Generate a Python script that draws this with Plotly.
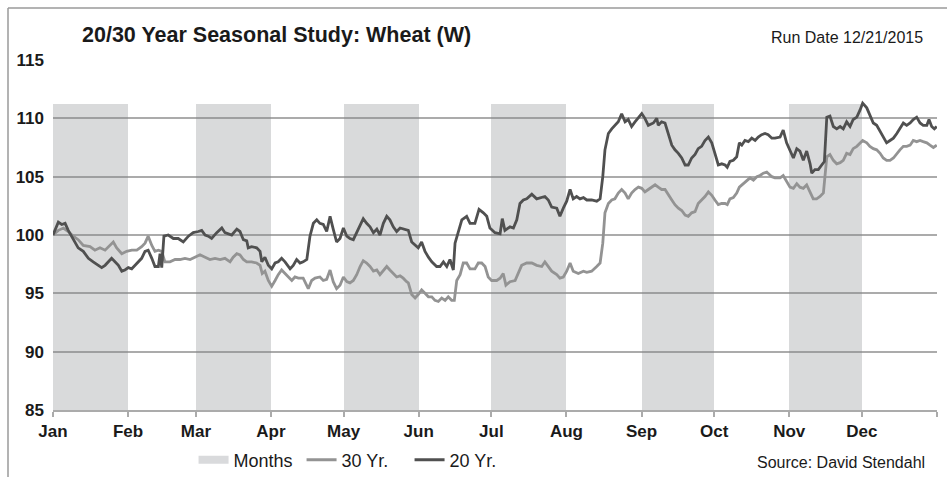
import plotly.graph_objects as go

# Calendar layout of the seasonal year
months = ["Jan", "Feb", "Mar", "Apr", "May", "Jun",
          "Jul", "Aug", "Sep", "Oct", "Nov", "Dec"]
month_lengths = [31, 28, 31, 30, 31, 30, 31, 31, 30, 31, 30, 31]
shaded_months = ["Jan", "Mar", "May", "Jul", "Sep", "Nov"]
shade_top = 111.2

y_ticks = [85, 90, 95, 100, 105, 110, 115]

# 20-year seasonal index (day of year, index value)
days_20 = [0, 2.2, 3.6, 5.0, 6.3, 8.4, 10.4, 12.5, 14.6, 16.6, 18.7, 20.1, 21.5, 22.8, 24.2,
           25.6, 27.0, 28.4, 29.7, 31.1, 32.5, 33.9, 35.2, 36.6, 38.0, 39.3, 40.8, 42.1, 43.5,
           44.2, 44.9, 45.8, 47.6, 49.7, 51.7, 53.8, 55.9, 57.9, 60.0, 61.4, 62.8, 64.1, 65.5,
           67.6, 69.7, 71.0, 73.8, 75.9, 77.2, 78.6, 80.0, 80.6, 82.0, 84.1, 85.5, 86.2, 87.5,
           88.9, 90.3, 91.7, 93.0, 94.4, 95.8, 97.9, 99.2, 100.6, 102.0, 103.3, 104.8, 106.1,
           107.5, 108.9, 110.2, 111.6, 113.0, 114.4, 115.7, 117.1, 118.5, 119.9, 121.3, 122.6,
           124.0, 125.4, 126.8, 128.1, 129.5, 130.9, 132.3, 133.7, 135.0, 136.4, 137.8, 139.1,
           140.5, 141.9, 143.3, 144.6, 146.7, 148.1, 149.5, 150.8, 152.2, 153.6, 155.0, 156.4,
           158.4, 159.8, 161.2, 162.6, 163.9, 165.3, 166.0, 167.4, 168.8, 170.8, 172.2, 174.2,
           175.9, 177.7, 179.1, 180.4, 182.5, 184.6, 185.5, 186.6, 188.7, 190.1, 191.5, 192.8,
           194.2, 195.6, 197.7, 199.7, 201.1, 203.1, 204.5, 205.9, 208.0, 209.3, 210.7, 212.1,
           213.5, 214.8, 216.2, 217.6, 219.0, 220.4, 222.4, 224.5, 225.9, 227.0, 227.9, 229.3,
           230.7, 232.0, 233.4, 234.8, 236.2, 237.5, 238.9, 240.3, 241.7, 243.1, 244.4, 245.8,
           247.9, 249.3, 249.9, 251.3, 252.7, 254.1, 255.5, 256.8, 258.2, 259.6, 261.0, 262.3,
           263.7, 265.1, 266.4, 267.8, 269.2, 270.6, 272.0, 273.3, 274.7, 276.1, 277.5, 278.4,
           279.5, 280.9, 282.3, 283.4, 284.4, 285.7, 287.1, 288.5, 289.9, 291.2, 292.6, 294.0,
           295.3, 296.8, 298.1, 300.2, 301.5, 302.9, 304.3, 305.7, 307.1, 308.4, 309.8, 311.2,
           312.6, 313.3, 314.6, 316.0, 317.4, 318.5, 319.5, 320.8, 322.2, 323.6, 325.0, 326.3,
           327.7, 329.1, 330.4, 331.9, 333.2, 334.3, 336.0, 337.3, 338.7, 340.1, 341.5, 342.8,
           344.2, 345.6, 347.0, 348.4, 349.7, 351.1, 352.5, 353.9, 355.2, 356.6, 358.0, 359.3,
           360.8, 361.7, 362.8, 363.9, 364.9]
vals_20 = [100.0, 101.1, 100.9, 101.0, 100.4, 99.6, 98.9, 98.6, 98.0, 97.7, 97.4, 97.2, 97.4, 97.7,
           98.0, 97.7, 97.4, 96.9, 97.0, 97.2, 97.1, 97.4, 97.7, 98.0, 98.6, 98.7, 98.0, 97.3,
           97.3, 98.4, 97.2, 99.9, 100.0, 99.7, 99.7, 99.4, 99.9, 100.2, 100.3, 100.4, 100.0,
           99.9, 99.7, 100.2, 100.6, 100.2, 100.0, 100.5, 100.3, 99.6, 99.5, 98.9, 99.0, 98.9,
           98.6, 97.7, 98.1, 97.4, 97.1, 97.6, 97.7, 98.0, 97.7, 97.1, 97.4, 97.9, 97.6, 97.7,
           97.9, 99.9, 101.0, 101.3, 101.0, 100.9, 100.3, 101.6, 100.5, 99.4, 99.7, 100.6, 99.9,
           99.7, 99.6, 100.2, 100.7, 101.4, 101.0, 100.7, 100.2, 100.5, 100.0, 101.0, 101.6,
           101.3, 100.7, 100.3, 100.6, 100.5, 100.4, 99.4, 99.1, 98.9, 99.4, 98.6, 98.1, 97.7,
           97.3, 97.3, 97.7, 97.3, 97.9, 97.0, 99.3, 100.4, 101.3, 101.6, 101.0, 101.0, 102.2,
           101.9, 101.6, 100.6, 100.2, 100.1, 101.4, 100.4, 100.7, 100.6, 101.3, 102.7, 103.0,
           103.1, 103.5, 103.1, 103.2, 103.3, 103.0, 102.4, 102.3, 101.6, 102.3, 102.9, 103.9,
           103.1, 103.3, 103.1, 103.2, 103.0, 103.0, 102.9, 103.1, 105.0, 107.3, 108.7, 109.1,
           109.4, 109.7, 110.4, 109.7, 109.9, 109.3, 109.7, 110.1, 110.4, 110.0, 109.4, 109.6,
           110.0, 109.4, 109.7, 109.6, 108.6, 107.7, 107.3, 107.0, 106.6, 106.0, 106.0, 106.6,
           106.9, 107.4, 107.6, 108.1, 108.4, 107.9, 107.0, 106.0, 106.1, 106.0, 105.8, 106.3,
           106.4, 106.7, 107.9, 107.7, 108.1, 108.0, 108.3, 108.1, 108.4, 108.6, 108.7, 108.6,
           108.3, 108.3, 108.4, 109.0, 107.9, 107.2, 106.6, 107.4, 107.2, 106.4, 107.2, 106.1,
           105.3, 105.6, 105.6, 106.0, 106.3, 110.1, 110.2, 109.3, 109.1, 109.3, 109.1, 109.7,
           109.3, 109.9, 110.1, 110.7, 111.3, 110.9, 110.3, 109.6, 109.4, 108.9, 108.4, 107.9,
           108.1, 108.3, 108.7, 109.1, 109.6, 109.4, 109.6, 109.9, 110.1, 109.6, 109.4, 109.4,
           109.9, 109.3, 109.1, 109.3]

# 30-year seasonal index (day of year, index value)
days_30 = [0, 2.2, 4.3, 6.3, 8.4, 10.4, 12.5, 15.3, 17.3, 19.4, 21.5, 23.5, 24.9, 26.3, 28.4,
           30.4, 32.5, 34.6, 36.6, 38.0, 39.3, 40.8, 42.1, 43.5, 44.9, 46.2, 48.3, 50.4, 52.4,
           54.5, 56.6, 58.6, 60.7, 62.8, 64.8, 66.9, 69.0, 71.0, 73.1, 74.4, 75.9, 77.2, 78.6,
           80.0, 82.0, 84.1, 85.5, 86.4, 87.5, 88.9, 90.3, 91.7, 93.0, 94.4, 95.8, 97.2, 98.6,
           99.9, 101.3, 103.3, 105.4, 106.8, 108.2, 110.2, 111.6, 113.0, 114.4, 115.7, 117.1,
           118.5, 119.9, 121.3, 122.6, 124.0, 125.4, 126.8, 128.1, 129.5, 130.9, 132.3, 133.7,
           135.0, 136.4, 137.8, 139.1, 140.5, 141.9, 143.3, 144.6, 146.0, 146.7, 148.1, 149.5,
           150.8, 152.2, 153.6, 155.0, 156.4, 157.7, 159.1, 160.5, 161.9, 163.2, 164.6, 165.7,
           166.7, 168.1, 169.4, 170.8, 172.2, 174.2, 175.6, 177.0, 178.4, 179.7, 181.1, 183.2,
           184.6, 185.9, 187.0, 188.7, 190.8, 192.1, 193.5, 195.6, 197.7, 199.7, 201.8, 203.1,
           204.5, 205.9, 208.0, 209.3, 210.7, 212.1, 213.5, 214.8, 216.9, 219.0, 220.4, 222.4,
           224.5, 225.9, 227.0, 227.9, 229.3, 230.7, 232.0, 233.4, 234.8, 236.2, 237.5, 238.9,
           240.3, 241.7, 243.1, 244.4, 245.8, 247.2, 248.6, 249.9, 251.3, 252.7, 254.1, 255.5,
           256.8, 258.2, 259.6, 261.0, 262.3, 263.7, 265.1, 266.4, 267.8, 269.2, 270.6, 272.0,
           273.3, 274.7, 276.1, 277.5, 278.4, 279.5, 280.9, 282.3, 283.4, 285.0, 286.4, 287.8,
           289.2, 290.6, 291.9, 293.3, 294.7, 295.3, 296.8, 298.1, 300.2, 301.5, 302.9, 304.3,
           305.7, 307.1, 308.4, 309.8, 311.2, 312.6, 313.9, 315.3, 316.7, 318.1, 318.8, 319.5,
           320.8, 322.2, 323.6, 325.0, 326.3, 327.7, 329.1, 330.4, 331.9, 333.2, 334.3, 336.0,
           337.3, 338.7, 340.1, 341.5, 342.8, 344.2, 345.6, 347.0, 348.4, 349.7, 351.1, 352.5,
           353.9, 355.2, 356.6, 358.0, 359.3, 360.8, 362.1, 363.5, 364.9]
vals_30 = [100.0, 100.4, 100.6, 100.3, 99.9, 99.6, 99.1, 99.0, 98.7, 98.9, 98.7, 99.1, 99.4, 98.9,
           98.4, 98.6, 98.7, 98.7, 99.0, 99.3, 99.9, 99.1, 98.6, 98.7, 98.6, 97.7, 97.7, 97.9,
           97.9, 98.0, 97.9, 98.1, 98.3, 98.1, 97.9, 98.0, 97.9, 98.0, 97.7, 98.1, 98.4, 98.3,
           97.9, 97.7, 97.7, 97.6, 97.4, 96.7, 96.9, 96.1, 95.6, 96.1, 96.6, 97.0, 96.7, 96.4,
           96.1, 96.4, 96.3, 96.3, 95.4, 96.1, 96.3, 96.4, 96.1, 96.2, 97.0, 96.0, 95.4, 95.7,
           96.4, 96.0, 95.9, 96.1, 96.6, 97.3, 97.8, 97.6, 97.3, 96.9, 97.0, 96.6, 97.0, 97.3,
           97.0, 96.7, 96.4, 96.5, 96.3, 96.0, 95.9, 94.9, 94.6, 94.9, 95.3, 95.0, 94.7, 94.7,
           94.4, 94.3, 94.6, 94.4, 94.7, 94.4, 94.4, 96.1, 96.6, 97.6, 97.6, 97.1, 97.1, 97.6,
           97.6, 97.3, 96.4, 96.1, 96.1, 96.3, 96.7, 95.7, 96.0, 96.1, 96.7, 97.4, 97.6, 97.6,
           97.4, 97.3, 97.7, 97.3, 96.9, 96.6, 96.3, 96.4, 96.9, 97.6, 96.9, 96.7, 96.9, 96.8,
           96.9, 97.3, 97.6, 99.3, 101.9, 102.7, 103.0, 103.1, 103.6, 103.9, 103.6, 103.1, 103.6,
           103.9, 104.1, 104.0, 103.7, 103.9, 104.1, 104.3, 104.1, 103.9, 103.9, 103.4, 103.0,
           102.6, 102.3, 102.1, 101.7, 101.6, 101.9, 102.0, 102.7, 103.0, 103.3, 103.7, 103.4,
           103.0, 102.6, 102.7, 102.7, 102.6, 103.1, 103.2, 103.6, 104.1, 104.4, 104.7, 104.9,
           104.7, 105.0, 105.1, 105.3, 105.4, 105.3, 105.0, 104.9, 104.9, 105.1, 104.6, 104.1,
           104.0, 104.4, 104.1, 104.0, 104.3, 103.6, 103.1, 103.1, 103.3, 103.6, 105.0, 106.7,
           106.9, 106.4, 106.1, 106.2, 106.4, 107.0, 106.9, 107.4, 107.6, 107.9, 108.1, 107.9,
           107.6, 107.4, 107.3, 107.0, 106.6, 106.4, 106.4, 106.6, 107.0, 107.3, 107.6, 107.6,
           107.7, 108.1, 108.0, 108.1, 108.0, 107.9, 107.7, 107.5, 107.7]

FONT = "Liberation Sans, Arial, Helvetica, sans-serif"
GRID = "#ababab"
TEXT = "#1a1a1a"

month_starts = [0]
for n in month_lengths[:-1]:
    month_starts.append(month_starts[-1] + n)
year_end = month_starts[-1] + month_lengths[-1]

shade_idx = [months.index(m) for m in shaded_months]
shade_x = [month_starts[i] + month_lengths[i] / 2 for i in shade_idx]
shade_w = [month_lengths[i] for i in shade_idx]

fig = go.Figure()

# Alternate-month shading; translucent so the grid stays visible through it
fig.add_trace(go.Bar(
    x=shade_x, y=[shade_top] * len(shade_x), width=shade_w,
    marker=dict(color="rgba(128,131,137,0.3)", line=dict(width=0)),
    legendgroup="months", showlegend=False, hoverinfo="skip",
))
fig.add_trace(go.Scatter(
    x=[None], y=[None], mode="lines", name="Months", legendgroup="months",
    line=dict(color="#d9dadc", width=8),
))
fig.add_trace(go.Scatter(
    x=days_30, y=vals_30, mode="lines", name="30 Yr.",
    line=dict(color="#939393", width=2.8),
))
fig.add_trace(go.Scatter(
    x=days_20, y=vals_20, mode="lines", name="20 Yr.",
    line=dict(color="#505050", width=2.8),
))

fig.update_layout(
    width=947, height=477,
    margin=dict(l=53, r=10, t=60, b=67, autoexpand=False),
    paper_bgcolor="white", plot_bgcolor="white",
    font=dict(family=FONT, color=TEXT),
    bargap=0,
    legend=dict(
        orientation="h", x=0.159, xanchor="left", y=-0.143, yanchor="middle",
        font=dict(size=18, color=TEXT), bgcolor="rgba(0,0,0,0)",
        traceorder="normal", entrywidth=63, entrywidthmode="pixels",
    ),
    annotations=[
        dict(text="20/30 Year Seasonal Study: Wheat (W)", xref="paper", yref="paper",
             x=0.0305, y=1.0714, xanchor="left", yanchor="middle", showarrow=False,
             font=dict(size=21.5, weight="bold", family=FONT, color=TEXT)),
        dict(text="Run Date 12/21/2015", xref="paper", yref="paper",
             x=0.9864, y=1.0629, xanchor="right", yanchor="middle", showarrow=False,
             font=dict(size=16, family=FONT, color=TEXT)),
        dict(text="Source: David Stendahl", xref="paper", yref="paper",
             x=0.9887, y=-0.1514, xanchor="right", yanchor="middle", showarrow=False,
             font=dict(size=16, family=FONT, color=TEXT)),
    ],
    shapes=[
        # chart frame (top and left edges)
        dict(type="line", xref="paper", yref="paper", x0=-0.0509, x1=1.1,
             y0=1.1486, y1=1.1486, line=dict(color="#9a9a9a", width=1.5)),
        dict(type="line", xref="paper", yref="paper", x0=-0.0509, x1=-0.0509,
             y0=-0.3, y1=1.1486, line=dict(color="#9a9a9a", width=1.5)),
    ],
)

fig.update_xaxes(
    range=[0, year_end],
    tickvals=month_starts + [year_end], ticktext=months + [""],
    showgrid=False, zeroline=False,
    showline=True, linecolor=GRID, linewidth=1.5,
    ticks="outside", ticklen=5, tickwidth=1.5, tickcolor=GRID,
    tickfont=dict(size=17, weight="bold", family=FONT, color=TEXT),
)
fig.update_yaxes(
    range=[85, 115], tickvals=y_ticks,
    showgrid=True, gridcolor=GRID, gridwidth=1.5, zeroline=False,
    showline=False, ticks="", ticklabelstandoff=8,
    tickfont=dict(size=17, weight="bold", family=FONT, color=TEXT),
)

fig.write_html("out.html")
